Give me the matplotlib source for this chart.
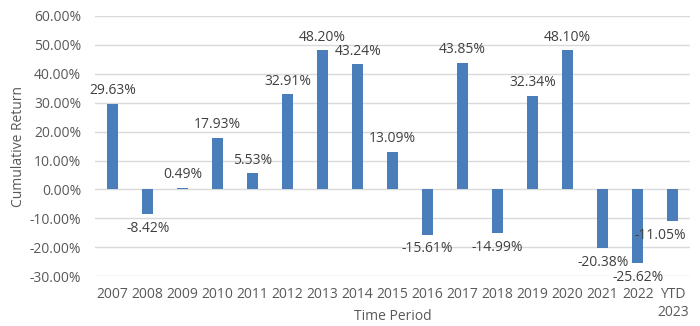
import matplotlib.pyplot as plt
import numpy as np

years = ['2007', '2008', '2009', '2010', '2011', '2012', '2013', '2014', '2015',
         '2016', '2017', '2018', '2019', '2020', '2021', '2022', 'YTD\n2023']
returns = [29.63, -8.42, 0.49, 17.93, 5.53, 32.91, 48.20, 43.24, 13.09,
           -15.61, 43.85, -14.99, 32.34, 48.10, -20.38, -25.62, -11.05]

plt.rcParams['font.family'] = ['Open Sans', 'DejaVu Sans']

fig = plt.figure(figsize=(7, 3.26), dpi=100)
ax = fig.add_axes([0.136, 0.153, 0.85, 0.798])

x = np.arange(len(years))
ax.bar(x, returns, width=0.3, color='#4a7ebb', zorder=3)

for i, v in enumerate(returns):
    dx = -0.35 if i == len(returns) - 1 else 0
    if v >= 0:
        ax.annotate(f'{v:.2f}%', (i + dx, v), xytext=(0, 4), textcoords='offset points',
                    ha='center', va='bottom', fontsize=10, color='#404040')
    else:
        ax.annotate(f'{v:.2f}%', (i + dx, v), xytext=(0, -5), textcoords='offset points',
                    ha='center', va='top', fontsize=10, color='#404040')

ax.set_ylim(-30, 60)
ax.set_xlim(-0.5, len(years) - 0.5)
ax.set_yticks(np.arange(-30, 61, 10))
ax.set_yticklabels([f'{t:.2f}%' for t in np.arange(-30, 61, 10)])
ax.set_xticks(x)
ax.set_xticklabels(years, linespacing=1.25)
ax.tick_params(length=0, labelsize=10, colors='#595959')
ax.tick_params(axis='x', pad=8)
ax.tick_params(axis='y', pad=10)
ax.grid(axis='y', color='#d9d9d9', linewidth=1, zorder=0)
for s in ax.spines.values():
    s.set_visible(False)

ax.set_ylabel('Cumulative Return', fontsize=10, color='#595959', va='center')
ax.yaxis.set_label_coords(-0.129, 0.5)
ax.set_xlabel('Time Period', fontsize=10, color='#595959', va='center')
ax.xaxis.set_label_coords(0.5, -0.154)

fig.savefig('out.png', dpi=100)
